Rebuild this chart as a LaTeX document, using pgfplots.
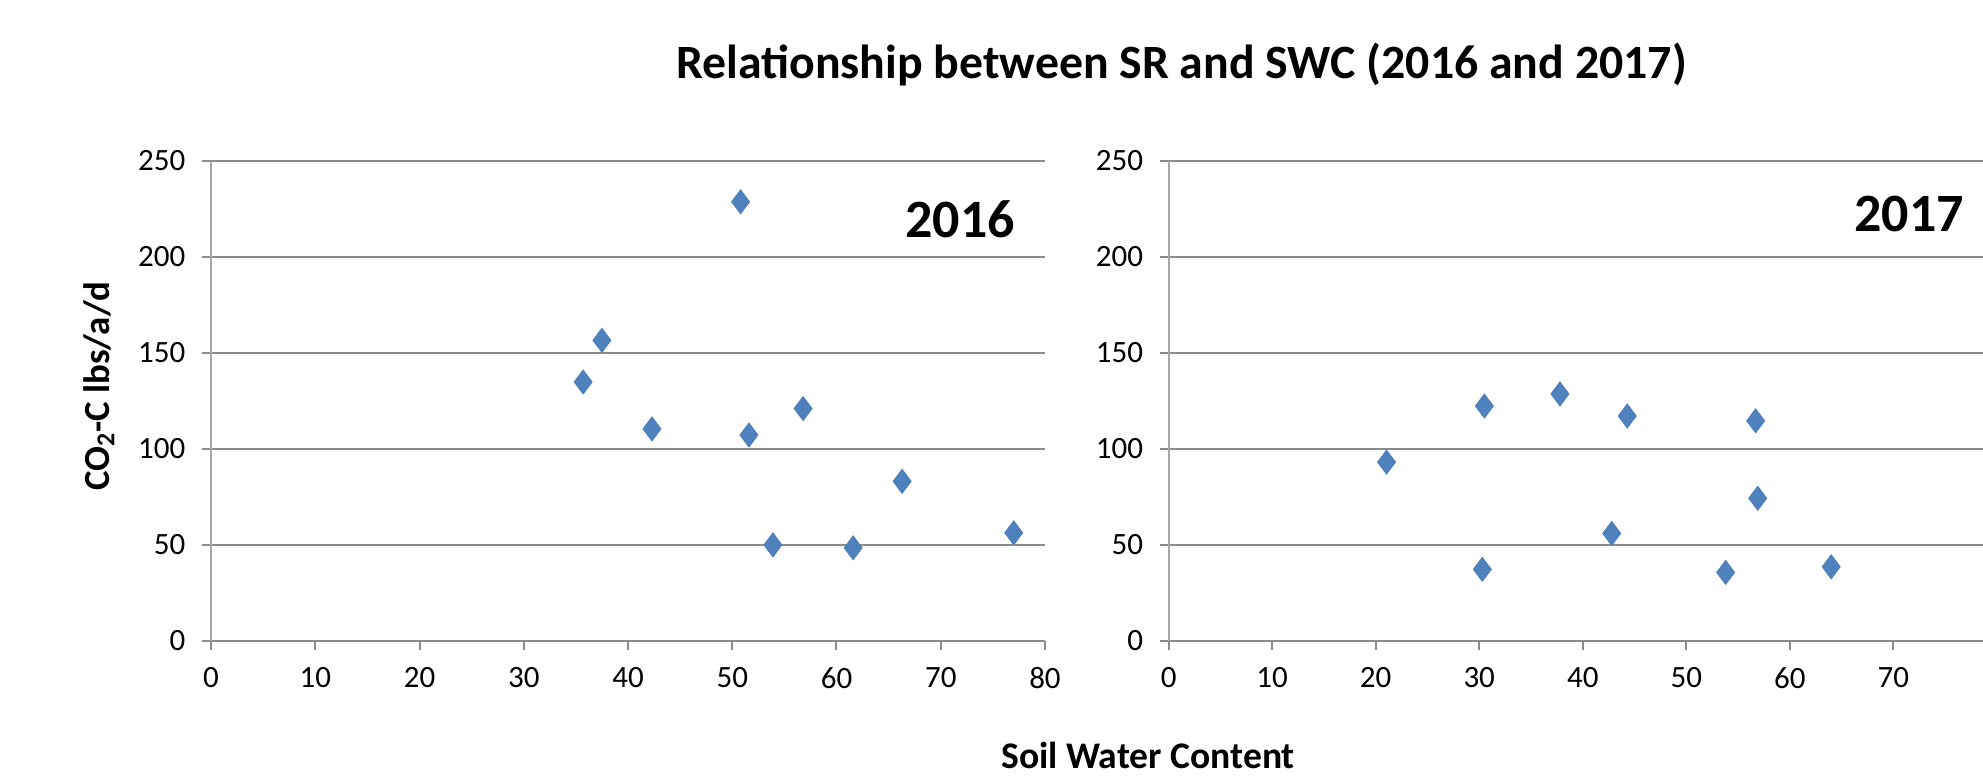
\documentclass[border=0pt]{standalone}
\usepackage{fontspec}
\setmainfont{Carlito}
\usepackage{pgfplots}
\pgfplotsset{compat=1.18}
\definecolor{mk}{HTML}{4F81BD}
\definecolor{mkd}{HTML}{4A7EBB}
\definecolor{gridc}{HTML}{8C8C8C}
\definecolor{axc}{HTML}{A6A6A6}
\pgfplotsset{myax/.style={
  scale only axis, anchor=south west,
  height=240.15bp,
  ymin=0, ymax=250, ytick={0,50,...,250},
  xmin=0,
  axis x line=bottom, axis y line=left,
  axis line style={-},
  x axis line style={draw=gridc, line width=1.1bp},
  y axis line style={draw=axc, line width=1bp},
  ymajorgrids, major grid style={draw=gridc, line width=1.1bp},
  tick align=outside, major tick length=4.3bp,
  xtick style={draw=gridc, line width=1bp},
  ytick style={draw=gridc, line width=1bp},
  ticklabel style={font=\fontsize{15.5bp}{18bp}\selectfont, text=black},
  /pgf/number format/assume math mode=true,
  xticklabel style={yshift=-5.5bp},
  yticklabel style={xshift=-5bp},
  clip=false,
}}
\begin{document}
\begin{tikzpicture}
\begin{axis}[myax, at={(105.5bp,67.5bp)}, width=417bp, xmax=80, xtick={0,10,...,80}]
\addplot[only marks, mark=diamond*, mark size=6bp, mark options={fill=mk, draw=mkd, line width=0.4bp}] coordinates {
(50.8,228.6) (37.5,156.5) (35.7,134.8) (42.3,110.4) (51.6,107.2)
(56.8,121.0) (66.3,83.1) (53.9,50.0) (61.6,48.5) (77.0,56.3)};
\end{axis}
\begin{axis}[myax, at={(584.3bp,67.5bp)}, width=407.2bp, xmax=78.66, xtick={0,10,...,70}]
\addplot[only marks, mark=diamond*, mark size=6bp, mark options={fill=mk, draw=mkd, line width=0.4bp}] coordinates {
(21.05,93.1) (30.5,122.3) (30.3,37.3) (37.8,128.6) (44.3,117.1)
(42.8,56.0) (56.7,114.6) (56.9,74.3) (53.8,35.7) (64.0,38.6)};
\end{axis}
\node[anchor=base, font=\bfseries\fontsize{23.9bp}{28bp}\selectfont] at (590.75bp,348.8bp) {Relationship between SR and SWC (2016 and 2017)};
\node[anchor=center, font=\bfseries\fontsize{27bp}{30bp}\selectfont] at (480bp,278.5bp) {2016};
\node[anchor=center, font=\bfseries\fontsize{27bp}{30bp}\selectfont] at (954.5bp,281bp) {2017};
\node[anchor=center, font=\bfseries\fontsize{18.8bp}{22bp}\selectfont] at (574bp,10.5bp) {Soil Water Content};
\node[anchor=center, rotate=90, font=\bfseries\fontsize{18.4bp}{22bp}\selectfont] at (49.5bp,195bp) {CO\textsubscript{2}-C lbs/a/d};
\pgfresetboundingbox
\path[use as bounding box] (0,0) rectangle (991.5bp,388bp);
\end{tikzpicture}
\end{document}
